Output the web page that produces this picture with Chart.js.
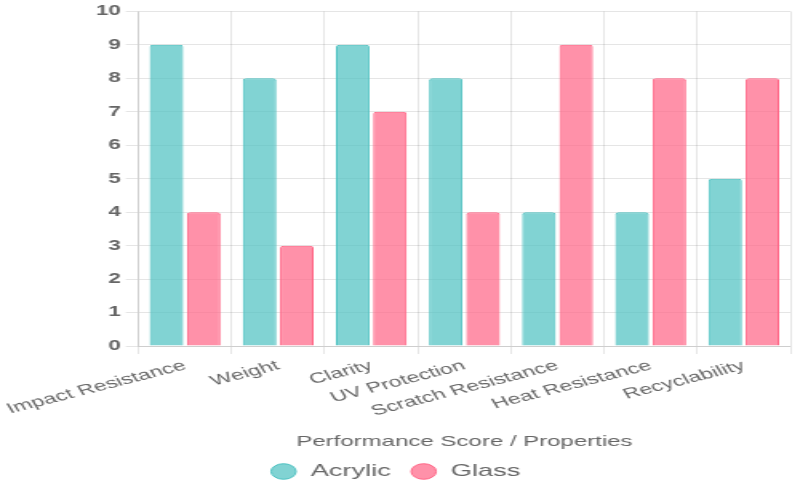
<!DOCTYPE html>
<html lang="en">
<head>
    <meta charset="UTF-8">
    <title>Acrylic vs Glass</title>
    <script src="https://cdn.jsdelivr.net/npm/chart.js"></script>
    <style>
        html, body { margin: 0; padding: 0; background: #fff; overflow: hidden; }
        /* the reference is a 500px wide chart stretched out to 800px */
        #wrap { width: 500px; height: 500px; transform: scale(1.6, 1); transform-origin: 0 0; }
    </style>
</head>
<body>
    <div id="wrap"><canvas id="chart"></canvas></div>
    <script>
        // categories and scores
        const properties = ['Impact Resistance', 'Weight', 'Clarity', 'UV Protection',
            'Scratch Resistance', 'Heat Resistance', 'Recyclability'];
        const acrylicScores = [9, 8, 9, 8, 4, 4, 5];
        const glassScores = [4, 3, 7, 4, 9, 8, 8];

        Chart.defaults.font.family = '"Liberation Sans", Arial, sans-serif';
        Chart.defaults.color = '#666';

        const ctx = document.getElementById('chart').getContext('2d');
        new Chart(ctx, {
            type: 'bar',
            data: {
                labels: properties,
                datasets: [
                    {
                        label: 'Acrylic',
                        data: acrylicScores,
                        backgroundColor: 'rgba(75, 192, 192, 0.7)',
                        borderColor: 'rgba(75, 192, 192, 1)',
                        borderWidth: 1,
                        borderRadius: 2,
                    },
                    {
                        label: 'Glass',
                        data: glassScores,
                        backgroundColor: 'rgba(255, 99, 132, 0.7)',
                        borderColor: 'rgba(255, 99, 132, 1)',
                        borderWidth: 1,
                        borderRadius: 2,
                    },
                ],
            },
            options: {
                responsive: true,
                maintainAspectRatio: false,
                animation: false,
                layout: { padding: { top: 4, right: 6, bottom: 10 } },
                scales: {
                    x: {
                        ticks: { font: { size: 14.5 }, maxRotation: 22, minRotation: 22 },
                        title: {
                            display: true,
                            text: 'Performance Score / Properties',
                            font: { size: 15 },
                            padding: { top: 10, bottom: 0 },
                        },
                    },
                    y: {
                        beginAtZero: true,
                        max: 10,
                        ticks: { stepSize: 1, font: { size: 14, weight: 'bold' } },
                    },
                },
                plugins: {
                    legend: {
                        position: 'bottom',
                        labels: { usePointStyle: true, pointStyle: 'circle', boxHeight: 11, font: { size: 17 }, padding: 12 },
                    },
                },
            },
        });
    </script>
</body>
</html>
